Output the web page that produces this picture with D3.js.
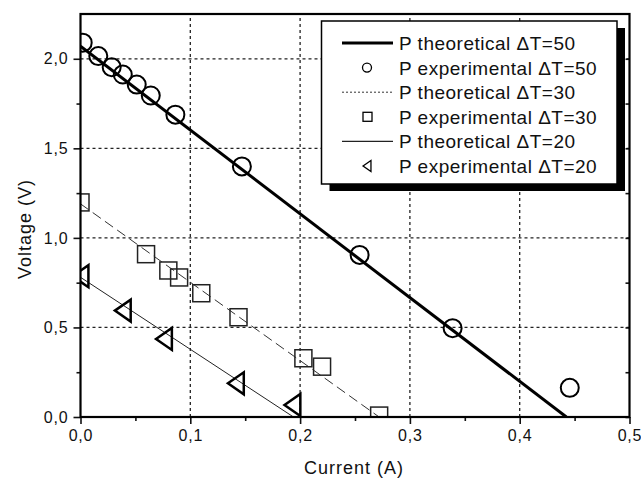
<!DOCTYPE html>
<html>
<head>
<meta charset="utf-8">
<script src="https://cdn.jsdelivr.net/npm/d3@7"></script>
<style>
  body { margin: 0; background: #fff; }
  text { font-family: "Liberation Sans", Arial, sans-serif; fill: #111; }
</style>
</head>
<body>
<svg id="chart" width="641" height="479"></svg>
<script>
// values: [current A, voltage V]
const exp50 = [[0.002, 2.09], [0.0162, 2.015], [0.0284, 1.953], [0.0385, 1.912], [0.0512, 1.856],
               [0.064, 1.795], [0.0864, 1.688], [0.147, 1.399], [0.2542, 0.905], [0.3389, 0.496], [0.4456, 0.163]];
const exp30 = [[0.0, 1.198], [0.0597, 0.909], [0.080, 0.818], [0.0898, 0.779], [0.110, 0.691],
               [0.1439, 0.557], [0.203, 0.328], [0.220, 0.281], [0.272, 0.008]];
const exp20 = [[0.0, 0.786], [0.0385, 0.594], [0.076, 0.436], [0.1415, 0.188], [0.193, 0.067]];
const theo50 = [[0, 2.07], [0.4425, 0]];
const theo30 = [[0, 1.19], [0.272, 0]];
const theo20 = [[0, 0.78], [0.194, 0]];

const xTicks = [0, 0.1, 0.2, 0.3, 0.4, 0.5];
const xMinor = [0.05, 0.15, 0.25, 0.35, 0.45];
const yTicks = [0, 0.5, 1.0, 1.5, 2.0];
const yMinor = [0.25, 0.75, 1.25, 1.75];
const legendLabels = ["P theoretical \u0394T=50", "P experimental \u0394T=50", "P theoretical \u0394T=30",
                      "P experimental \u0394T=30", "P theoretical \u0394T=20", "P experimental \u0394T=20"];

const svg = d3.select("#chart");
const x = d3.scaleLinear().domain([0, 0.5]).range([80.5, 629.5]);
const y = d3.scaleLinear().domain([0, 2.25]).range([417, 14]);
const fmt = d => d3.format(".1f")(d).replace(".", ",");

svg.append("rect").attr("width", 641).attr("height", 479).attr("fill", "#fff");

svg.append("defs").append("clipPath").attr("id", "plotclip")
   .append("rect")
   .attr("x", x(0)).attr("y", y(2.25))
   .attr("width", x(0.5) - x(0)).attr("height", y(0) - y(2.25));

// grid
const grid = svg.append("g").attr("stroke", "#222").attr("stroke-width", 1.3).attr("stroke-dasharray", "3,3");
grid.selectAll(".gx").data(xTicks.slice(1, -1)).enter().append("line")
    .attr("x1", d => x(d)).attr("x2", d => x(d)).attr("y1", y(0)).attr("y2", y(2.25));
grid.selectAll(".gy").data(yTicks.slice(1)).enter().append("line")
    .attr("x1", x(0)).attr("x2", x(0.5)).attr("y1", d => y(d)).attr("y2", d => y(d));

// axes
function styleAxis(g) {
    g.select(".domain").remove();
    g.selectAll(".tick line").attr("stroke", "#111").attr("stroke-width", 1.6);
    g.selectAll(".tick text").style("font-size", "16px").style("letter-spacing", "0.8px").attr("fill", "#111");
}
svg.append("g").attr("transform", `translate(0,${y(0)})`)
   .call(d3.axisBottom(x).tickValues(xTicks).tickFormat(fmt).tickSize(7).tickPadding(6)).call(styleAxis);
svg.append("g").attr("transform", `translate(0,${y(0)})`)
   .call(d3.axisBottom(x).tickValues(xMinor).tickFormat("").tickSize(4)).call(styleAxis);
svg.append("g").attr("transform", `translate(${x(0)},0)`)
   .call(d3.axisLeft(y).tickValues(yTicks).tickFormat(fmt).tickSize(7).tickPadding(5)).call(styleAxis);
svg.append("g").attr("transform", `translate(${x(0)},0)`)
   .call(d3.axisLeft(y).tickValues(yMinor).tickFormat("").tickSize(4)).call(styleAxis);
svg.append("g").attr("transform", `translate(${x(0.5)},0)`)
   .call(d3.axisRight(y).tickValues(yTicks.concat(yMinor)).tickFormat("").tickSize(-4)).call(styleAxis);

svg.append("text").attr("x", 354).attr("y", 474).attr("text-anchor", "middle")
   .style("font-size", "18px").style("letter-spacing", "1px").text("Current (A)");
svg.append("text").attr("transform", `translate(31,229) rotate(-90)`).attr("text-anchor", "middle")
   .style("font-size", "18px").style("letter-spacing", "1px").text("Voltage (V)");

// series
const plot = svg.append("g").attr("clip-path", "url(#plotclip)");
const line = d3.line().x(d => x(d[0])).y(d => y(d[1]));
plot.append("path").datum(theo50).attr("d", line).attr("fill", "none").attr("stroke", "#000").attr("stroke-width", 3);
plot.append("path").datum(theo30).attr("d", line).attr("fill", "none").attr("stroke", "#333")
    .attr("stroke-width", 1).attr("stroke-dasharray", "10,5");
plot.append("path").datum(theo20).attr("d", line).attr("fill", "none").attr("stroke", "#222").attr("stroke-width", 1);

const tri = s => `M${-s * 0.72},0L${s * 0.72},${-s}L${s * 0.72},${s}Z`;

plot.selectAll(".c50").data(exp50).enter().append("circle")
    .attr("cx", d => x(d[0])).attr("cy", d => y(d[1])).attr("r", 9)
    .attr("fill", "none").attr("stroke", "#000").attr("stroke-width", 2);
plot.selectAll(".s30").data(exp30).enter().append("rect")
    .attr("x", d => x(d[0]) - 8.5).attr("y", d => y(d[1]) - 8.5).attr("width", 17).attr("height", 17)
    .attr("fill", "none").attr("stroke", "#222").attr("stroke-width", 1.5);
plot.selectAll(".t20").data(exp20).enter().append("path")
    .attr("transform", d => `translate(${x(d[0])},${y(d[1])})`).attr("d", tri(11))
    .attr("fill", "none").attr("stroke", "#000").attr("stroke-width", 2.5).attr("stroke-linejoin", "miter");

// frame
svg.append("rect").attr("x", x(0)).attr("y", y(2.25)).attr("width", x(0.5) - x(0)).attr("height", y(0) - y(2.25))
   .attr("fill", "none").attr("stroke", "#000").attr("stroke-width", 2.2);

// legend
const lg = svg.append("g");
lg.append("rect").attr("x", 329.5).attr("y", 28).attr("width", 295.5).attr("height", 163).attr("fill", "#000");
lg.append("rect").attr("x", 321.5).attr("y", 21).attr("width", 295.5).attr("height", 163)
  .attr("fill", "#fff").attr("stroke", "#000").attr("stroke-width", 1.5);
const ly = i => 43 + i * 24.6;
lg.selectAll(".lt").data(legendLabels).enter().append("text")
  .attr("x", 399).attr("y", (d, i) => ly(i) + 7)
  .style("font-size", "19px").style("letter-spacing", "0.5px").text(d => d);
lg.append("line").attr("x1", 342).attr("x2", 393).attr("y1", ly(0)).attr("y2", ly(0)).attr("stroke", "#000").attr("stroke-width", 3);
lg.append("line").attr("x1", 342).attr("x2", 393).attr("y1", ly(2)).attr("y2", ly(2)).attr("stroke", "#333")
  .attr("stroke-width", 1).attr("stroke-dasharray", "2,2");
lg.append("line").attr("x1", 342).attr("x2", 393).attr("y1", ly(4)).attr("y2", ly(4)).attr("stroke", "#222").attr("stroke-width", 1.2);
lg.append("circle").attr("cx", 367).attr("cy", ly(1)).attr("r", 4.5).attr("fill", "none").attr("stroke", "#000").attr("stroke-width", 1.3);
lg.append("rect").attr("x", 363).attr("y", ly(3) - 4.5).attr("width", 9).attr("height", 9)
  .attr("fill", "none").attr("stroke", "#000").attr("stroke-width", 1.3);
lg.append("path").attr("transform", `translate(367,${ly(5)})`).attr("d", tri(5.5))
  .attr("fill", "none").attr("stroke", "#000").attr("stroke-width", 1.3);
</script>
</body>
</html>
